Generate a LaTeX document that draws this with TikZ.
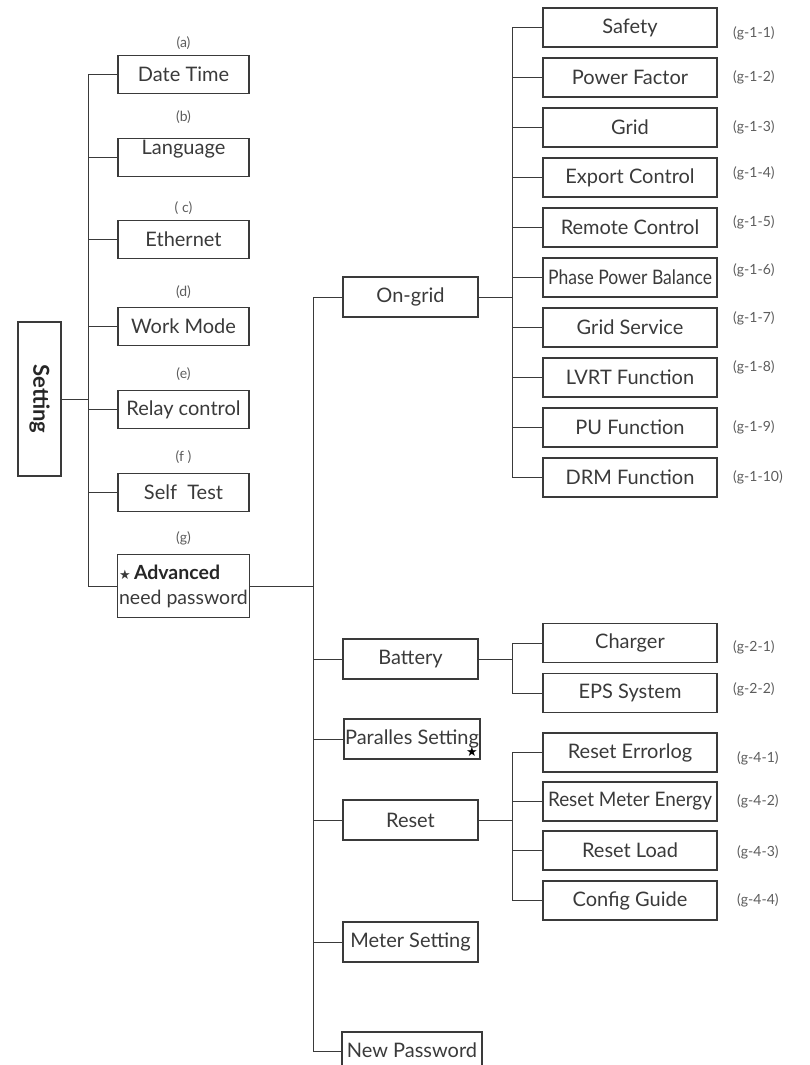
\documentclass[tikz,border=0pt]{standalone}
\usepackage{fontspec}
\setmainfont{Lato}
\newfontfamily\symfont{DejaVu Sans}
\usetikzlibrary{positioning}

\definecolor{ink}{HTML}{3A3A3A}
\definecolor{tagink}{HTML}{5C5C5C}
\newcommand{\starmark}{{\symfont\fontsize{13}{13}\selectfont ★}}

\begin{document}
\begin{tikzpicture}[x=1pt, y=-1pt,
    item/.style={rectangle, draw=ink, line width=1.2pt, text=ink, minimum width=131pt, minimum height=38pt, inner sep=1pt, outer sep=0pt, font=\fontsize{20}{24}\selectfont},
    mid/.style={item, minimum width=135pt, minimum height=40pt},
    leaf/.style={item, minimum width=174pt, minimum height=39pt},
    tag/.style={text=tagink, inner sep=0pt, font=\fontsize{14}{16}\selectfont},
    line/.style={draw=ink, line width=0.9pt}
  ]
  \useasboundingbox (0,0) rectangle (810,1065);
  \clip (0,0) rectangle (810,1065);

  % Trunks
  \coordinate (trunkA) at (88,0);
  \coordinate (trunkB) at (313,0);
  \coordinate (trunkC) at (512,0);

  % Setting and first level
  \node[item, minimum width=43pt, minimum height=154pt, text=black!85, font={\fontsize{22}{26}\selectfont\bfseries}] (setting) at (39.5,399) {\rotatebox{-90}{Setting}};
  \node[item] (datetime) at (183.5,74.5) {Date Time};
  \node[item, below=45pt of datetime] (language) {\raisebox{8pt}[\height][\depth]{Language}};
  \node[item, below=44pt of language] (ethernet) {Ethernet};
  \node[item, below=49pt of ethernet] (workmode) {Work Mode};
  \node[item, below=45pt of workmode] (relay) {Relay control};
  \node[item, below=45pt of relay] (selftest) {Self~~Test};
  \node[item, below=43pt of selftest, minimum width=132pt, minimum height=63pt, line width=1.6pt, align=left, font=\fontsize{19.5}{25}\selectfont] (advanced) {\starmark\,{\bfseries\color{black!85}Advanced}\\need password};

  % Letters
  \node[tag, above=6pt of datetime] (tagA) {(a)};
  \node[tag, above=14.5pt of language] (tagB) {(b)};
  \node[tag, above=6pt of ethernet] (tagC) {( c)};
  \node[tag, above=9pt of workmode] (tagD) {(d)};
  \node[tag, above=10pt of relay] (tagE) {(e)};
  \node[tag, above=9.5pt of selftest] (tagF) {(f )};
  \node[tag, above=9.5pt of advanced] (tagG) {(g)};

  % Second level
  \node[mid] (ongrid) at (410.5,297) {On-grid};
  \node[mid, below=322pt of ongrid] (battery) {Battery};
  \node[mid, below=40pt of battery, xshift=1.5pt, minimum width=136pt] (paralles) {Paralles Setting};
  \node[mid, below=41pt of paralles, xshift=-1.5pt] (reset) {Reset};
  \node[mid, below=82pt of reset] (meter) {Meter Setting};
  \node[mid, minimum width=140pt, minimum height=38pt] (newpass) at (412,1051) {\raisebox{1.5pt}{New Password}};
  \node[inner sep=0pt, font=\symfont\fontsize{13}{13}\selectfont, above left=2pt and 2pt of paralles.south east] (parstar) {★};

  % On-grid items
  \node[leaf] (safety) at (630,27.5) {Safety};
  \node[leaf, below=11pt of safety] (pfactor) {Power Factor};
  \node[leaf, below=11pt of pfactor] (grid) {Grid};
  \node[leaf, below=11pt of grid] (export) {Export Control};
  \node[leaf, below=11pt of export] (remote) {Remote Control};
  \node[leaf, below=11pt of remote] (balance) {\resizebox{164pt}{\height}{Phase Power Balance}};
  \node[leaf, below=11pt of balance] (gridserv) {Grid Service};
  \node[leaf, below=11pt of gridserv] (lvrt) {LVRT Function};
  \node[leaf, below=11pt of lvrt] (pufunc) {PU Function};
  \node[leaf, below=11pt of pufunc] (drm) {DRM Function};

  % Battery items
  \node[leaf] (charger) at (630,643) {Charger};
  \node[leaf, below=11pt of charger] (eps) {EPS System};

  % Reset items
  \node[leaf] (reseterr) at (630,752.5) {Reset Errorlog};
  \node[leaf, below=10pt of reseterr] (resetmeter) {\resizebox{164pt}{\height}{Reset Meter Energy}};
  \node[leaf, below=10pt of resetmeter] (resetload) {Reset Load};
  \node[leaf, below=11pt of resetload] (config) {Config Guide};

  % Item codes
  \node[tag, right=16pt of safety, yshift=-5.5pt] (codeA) {(g-1-1)};
  \node[tag, right=16pt of pfactor] (codeB) {(g-1-2)};
  \node[tag, right=16pt of grid] (codeC) {(g-1-3)};
  \node[tag, right=16pt of export, yshift=4.5pt] (codeD) {(g-1-4)};
  \node[tag, right=16pt of remote, yshift=5.5pt] (codeE) {(g-1-5)};
  \node[tag, right=16pt of balance, yshift=7.5pt] (codeF) {(g-1-6)};
  \node[tag, right=16pt of gridserv, yshift=9.5pt] (codeG) {(g-1-7)};
  \node[tag, right=16pt of lvrt, yshift=10.5pt] (codeH) {(g-1-8)};
  \node[tag, right=16pt of pufunc] (codeI) {(g-1-9)};
  \node[tag, right=16pt of drm] (codeJ) {(g-1-10)};
  \node[tag, right=16pt of charger, yshift=-4pt] (codeK) {(g-2-1)};
  \node[tag, right=16pt of eps, yshift=3.5pt] (codeL) {(g-2-2)};
  \node[tag, right=20pt of reseterr, yshift=-5.5pt] (codeM) {(g-4-1)};
  \node[tag, right=20pt of resetmeter] (codeN) {(g-4-2)};
  \node[tag, right=20pt of resetload, yshift=-1.5pt] (codeO) {(g-4-3)};
  \node[tag, right=20pt of config] (codeP) {(g-4-4)};

  % Connections
  \draw[line] (setting.east) -- (setting.east -| trunkA);
  \draw[line] (datetime.west -| trunkA) -- (advanced.west -| trunkA);
  \draw[line] (datetime.west) -- (datetime.west -| trunkA) (language.west) -- (language.west -| trunkA)
    (ethernet.west) -- (ethernet.west -| trunkA) (workmode.west) -- (workmode.west -| trunkA)
    (relay.west) -- (relay.west -| trunkA) (selftest.west) -- (selftest.west -| trunkA)
    (advanced.west) -- (advanced.west -| trunkA);

  \draw[line] (advanced.east) -- (advanced.east -| trunkB);
  \draw[line] (ongrid.west -| trunkB) -- (newpass.west -| trunkB);
  \draw[line] (ongrid.west) -- (ongrid.west -| trunkB) (battery.west) -- (battery.west -| trunkB)
    (paralles.west) -- (paralles.west -| trunkB) (reset.west) -- (reset.west -| trunkB)
    (meter.west) -- (meter.west -| trunkB) (newpass.west) -- (newpass.west -| trunkB);

  \draw[line] (ongrid.east) -- (ongrid.east -| trunkC);
  \draw[line] (safety.west -| trunkC) -- (drm.west -| trunkC);
  \draw[line] (safety.west) -- (safety.west -| trunkC) (pfactor.west) -- (pfactor.west -| trunkC)
    (grid.west) -- (grid.west -| trunkC) (export.west) -- (export.west -| trunkC)
    (remote.west) -- (remote.west -| trunkC) (balance.west) -- (balance.west -| trunkC)
    (gridserv.west) -- (gridserv.west -| trunkC) (lvrt.west) -- (lvrt.west -| trunkC)
    (pufunc.west) -- (pufunc.west -| trunkC) (drm.west) -- (drm.west -| trunkC);

  \draw[line] (battery.east) -- (battery.east -| trunkC);
  \draw[line] (charger.west) -| (eps.west -| trunkC) -- (eps.west);

  \draw[line] (reset.east) -- (reset.east -| trunkC);
  \draw[line] (reseterr.west -| trunkC) -- (config.west -| trunkC);
  \draw[line] (reseterr.west) -- (reseterr.west -| trunkC) (resetmeter.west) -- (resetmeter.west -| trunkC)
    (resetload.west) -- (resetload.west -| trunkC) (config.west) -- (config.west -| trunkC);
\end{tikzpicture}
\end{document}
